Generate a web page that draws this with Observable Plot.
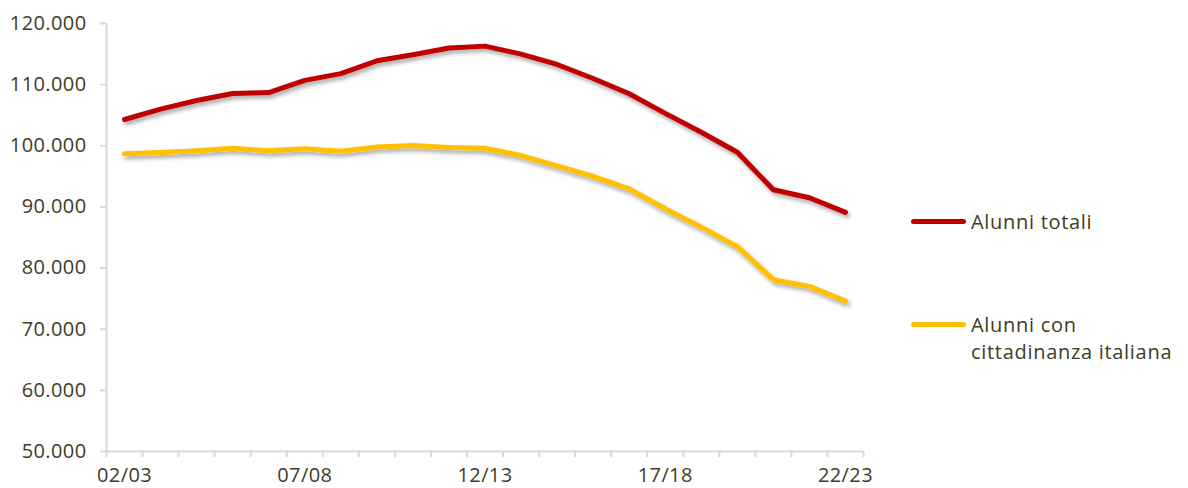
<!DOCTYPE html>
<html>
<head>
<meta charset="utf-8">
<script src="https://cdn.jsdelivr.net/npm/d3@7"></script>
<script src="https://cdn.jsdelivr.net/npm/@observablehq/plot@0.6"></script>
<style>
  html, body { margin: 0; padding: 0; background: #fff; }
  #wrap { position: relative; width: 1188px; height: 488px; font-family: "Open Sans", sans-serif; color: #3d3d1f; }
  .leg { position: absolute; left: 911px; font-size: 20px; line-height: 27px; letter-spacing: 0.7px; }
  .leg .sw { position: absolute; left: 0; width: 55px; height: 5px; border-radius: 3px; top: 11px; }
  .leg .tx { position: absolute; left: 60px; white-space: nowrap; }
  svg text { letter-spacing: 0.4px; }
</style>
</head>
<body>
<div id="wrap"></div>
<script>
const years = ["02/03","03/04","04/05","05/06","06/07","07/08","08/09","09/10","10/11","11/12","12/13",
               "13/14","14/15","15/16","16/17","17/18","18/19","19/20","20/21","21/22","22/23"];
const alunniTotali = [104300,106000,107400,108550,108700,110700,111800,113900,114900,116000,116300,
                      115000,113300,111000,108500,105300,102200,98950,92800,91500,89100];
const alunniItaliani = [98700,98900,99200,99600,99200,99500,99100,99800,100050,99700,99600,
                        98400,96700,95000,92950,89700,86700,83500,78100,77000,74600];
const labelYears = ["02/03","07/08","12/13","17/18","22/23"];
const seriesNames = ["Alunni totali", "Alunni con\ncittadinanza italiana"];
const seriesColors = ["#C00000", "#FFC000"];

const data = years.map((y, i) => ({i, year: y, totali: alunniTotali[i], italiani: alunniItaliani[i]}));
const boundaries = d3.range(years.length + 1).map(i => i - 0.5);
const labelIdx = labelYears.map(l => years.indexOf(l));
const fmt = d => d3.format(",")(d).replace(/,/g, ".");
const axisColor = "#d9d9d9";
const textColor = "#3d3d1f";

const plot = Plot.plot({
  width: 1188,
  height: 488,
  marginLeft: 106,
  marginRight: 325,
  marginTop: 23,
  marginBottom: 37,
  style: {fontFamily: "Open Sans, sans-serif", fontSize: "20px", color: textColor, background: "#fff"},
  x: {type: "linear", domain: [-0.5, years.length - 0.5]},
  y: {domain: [50000, 120000]},
  marks: [
    Plot.ruleX([-0.5], {y1: 50000, y2: 120000, stroke: axisColor, strokeWidth: 2}),
    Plot.ruleY([50000], {stroke: axisColor, strokeWidth: 2}),
    Plot.axisY({ticks: d3.range(50000, 120001, 10000), tickSize: 6, tickPadding: 14, tickFormat: fmt,
                stroke: axisColor, strokeWidth: 2, fill: textColor, fontSize: 20, label: null}),
    Plot.axisX({ticks: boundaries, tickSize: 6, tickFormat: () => "", stroke: axisColor, strokeWidth: 2, label: null}),
    Plot.axisX({ticks: labelIdx, tickSize: 0, tickPadding: 16, tickFormat: i => years[i], fill: textColor, fontSize: 20, label: null}),
    Plot.line(data, {x: "i", y: "totali", stroke: seriesColors[0], strokeWidth: 5, strokeLinejoin: "round", strokeLinecap: "round"}),
    Plot.line(data, {x: "i", y: "italiani", stroke: seriesColors[1], strokeWidth: 5, strokeLinejoin: "round", strokeLinecap: "round"})
  ]
});

// drop shadow on lines
const ns = "http://www.w3.org/2000/svg";
const defs = document.createElementNS(ns, "defs");
defs.innerHTML = '<filter id="sh" x="-10%" y="-10%" width="120%" height="130%"><feDropShadow dx="2" dy="3" stdDeviation="2" flood-color="#000" flood-opacity="0.35"/></filter>';
plot.insertBefore(defs, plot.firstChild);
plot.querySelectorAll('g[aria-label="line"]').forEach(g => g.setAttribute("filter", "url(#sh)"));

const wrap = document.getElementById("wrap");
wrap.appendChild(plot);

const legTops = [208, 311];
seriesNames.forEach((name, k) => {
  const d = document.createElement("div");
  d.className = "leg";
  d.style.top = legTops[k] + "px";
  const sw = document.createElement("div");
  sw.className = "sw";
  sw.style.background = seriesColors[k];
  const tx = document.createElement("div");
  tx.className = "tx";
  tx.innerHTML = name.split("\n").join("<br>");
  d.appendChild(sw); d.appendChild(tx);
  wrap.appendChild(d);
});
</script>
</body>
</html>
